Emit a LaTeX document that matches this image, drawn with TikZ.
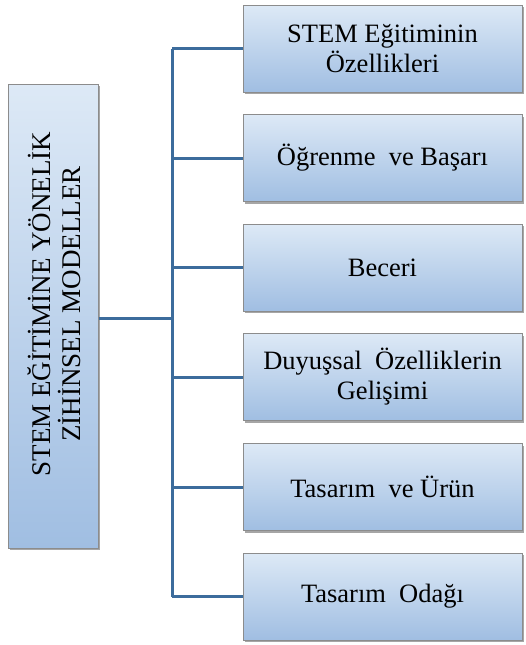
\documentclass[tikz,border=0pt]{standalone}
\usepackage{fontspec}
\setmainfont{Liberation Serif}
\usetikzlibrary{shadows}
\definecolor{topc}{HTML}{DDE9F6}
\definecolor{botc}{HTML}{A0BEE2}
\definecolor{linec}{HTML}{3C6C9C}
\definecolor{edgec}{HTML}{8C8C8C}
\begin{document}
\begin{tikzpicture}[x=1pt,y=-1pt,
  boxst/.style={draw=edgec,line width=1pt,top color=topc,bottom color=botc,
    drop shadow={shadow xshift=2pt,shadow yshift=-2pt,fill=black,opacity=0.35},
    align=center,inner sep=0pt,font=\fontsize{26.5}{30}\selectfont},
  rbox/.style={boxst,minimum width=279pt,minimum height=87pt},
  conn/.style={draw=linec,line width=3pt}]
\useasboundingbox (0,0) rectangle (526,645);
\node[boxst,minimum width=90pt,minimum height=464pt] (L) at (53,316) {};
\node[rotate=90,align=center,font=\fontsize{27}{30}\selectfont] (Lt) at (54,304) {STEM EĞİTİMİNE YÖNELİK\\ZİHİNSEL MODELLER};
\node[rbox] (b1) at (382.5,48.5) {STEM Eğitiminin\\Özellikleri};
\node[rbox] (b2) at (382.5,158) {Öğrenme\ \ ve Başarı};
\node[rbox] (b3) at (382.5,267.5) {Beceri};
\node[rbox] (b4) at (382.5,377) {Duyuşsal\ \ Özelliklerin\\Gelişimi};
\node[rbox] (b5) at (382.5,487) {Tasarım\ \ ve Ürün};
\node[rbox] (b6) at (382.5,596.5) {Tasarım\ \ Odağı};
\coordinate (t1) at (172,48.5);
\coordinate (t6) at (172,596.5);
\coordinate (tm) at (172,318);
\draw[conn] (t1) -- (t6);
\draw[conn] (L.east |- tm) -- (tm);
\foreach \i in {1,...,6}{\draw[conn] (172,0 |- b\i.west) -- (b\i.west);}
\end{tikzpicture}
\end{document}
